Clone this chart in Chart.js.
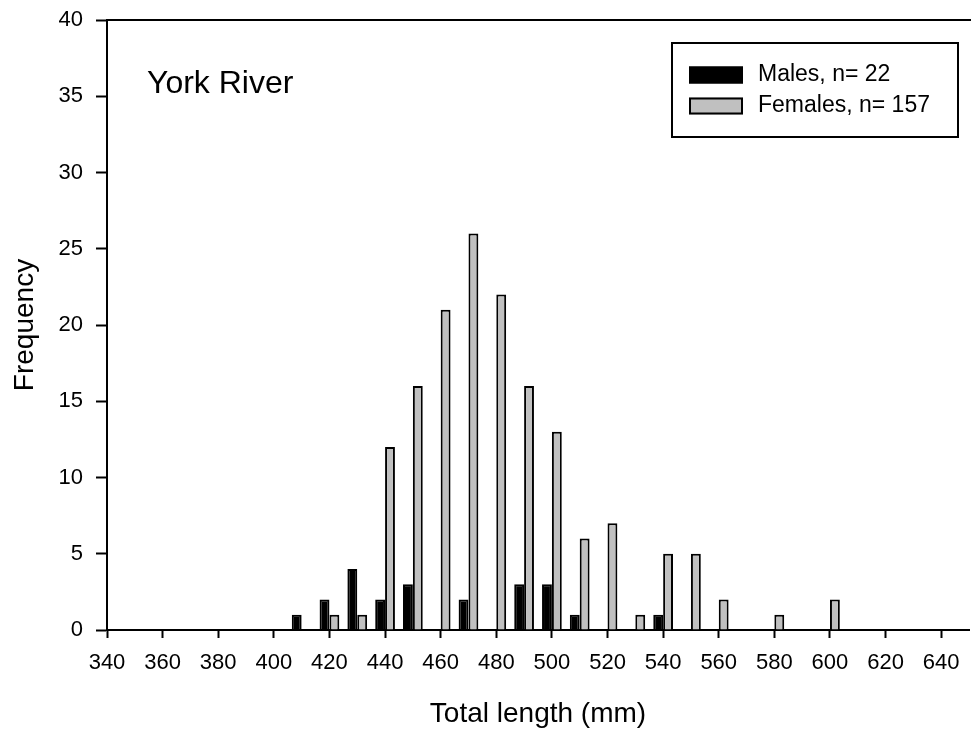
<!DOCTYPE html>
<html>
<head>
<meta charset="utf-8">
<title>York River - total length frequency</title>
<script src="https://cdn.jsdelivr.net/npm/chart.js@4.4.1/dist/chart.umd.min.js"></script>
<style>
  html, body { margin: 0; padding: 0; background: #fff; overflow: hidden; }
  #wrap { width: 981px; height: 734px; }
</style>
</head>
<body>
<div id="wrap"><canvas id="chart" width="981" height="734"></canvas></div>
<script>
// 10 mm length classes (the last one only pads the axis past 640)
var lengthBins = [340, 350, 360, 370, 380, 390, 400, 410, 420, 430, 440, 450, 460, 470, 480, 490,
                  500, 510, 520, 530, 540, 550, 560, 570, 580, 590, 600, 610, 620, 630, 640, 650];
var males =      [0, 0, 0, 0, 0, 0, 0, 1, 2, 4, 2, 3, 0, 2, 0, 3,
                  3, 1, 0, 0, 1, 0, 0, 0, 0, 0, 0, 0, 0, 0, 0, 0];
var females =    [0, 0, 0, 0, 0, 0, 0, 0, 1, 1, 12, 16, 21, 26, 22, 16,
                  13, 6, 7, 1, 5, 5, 2, 0, 1, 0, 2, 0, 0, 0, 0, 0];
var xTickLabels = [340, 360, 380, 400, 420, 440, 460, 480, 500, 520, 540, 560, 580, 600, 620, 640];
var yTicks = [0, 5, 10, 15, 20, 25, 30, 35, 40];
var siteName = 'York River';

var FONT = '"Liberation Sans", Arial, Helvetica, sans-serif';

function total(arr) {
  var s = 0;
  for (var i = 0; i < arr.length; i++) s += arr[i];
  return s;
}

// title text and the boxed legend are drawn by hand
var extras = {
  id: 'extras',
  afterDraw: function(chart) {
    var ctx = chart.ctx;
    var area = chart.chartArea;
    ctx.save();

    // top frame line
    ctx.strokeStyle = '#000';
    ctx.lineWidth = 2;
    ctx.beginPath();
    ctx.moveTo(area.left, area.top);
    ctx.lineTo(chart.width, area.top);
    ctx.stroke();

    ctx.fillStyle = '#000';
    ctx.font = '32px ' + FONT;
    ctx.textBaseline = 'alphabetic';
    ctx.textAlign = 'left';
    ctx.fillText(siteName, area.left + 40, area.top + 73);

    // legend box
    var bx = area.left + 565, by = area.top + 23, bw = 286, bh = 94;
    ctx.lineWidth = 2;
    ctx.strokeRect(bx, by, bw, bh);

    ctx.font = '23px ' + FONT;
    ctx.textBaseline = 'middle';
    var rows = [by + 32, by + 63];
    chart.data.datasets.forEach(function(ds, i) {
      var cy = rows[i];
      ctx.fillStyle = ds.backgroundColor;
      ctx.fillRect(bx + 17, cy - 8.5, 54, 17);
      ctx.strokeStyle = ds.borderColor;
      ctx.lineWidth = 2;
      ctx.strokeRect(bx + 18, cy - 7.5, 52, 15);
      ctx.fillStyle = '#000';
      ctx.fillText(ds.label, bx + 86, cy);
    });
    ctx.restore();
  }
};

var ctx = document.getElementById('chart').getContext('2d');
var chart = new Chart(ctx, {
  type: 'bar',
  data: {
    labels: lengthBins,
    datasets: [{
      label: 'Males, n= ' + total(males),
      data: males,
      backgroundColor: '#000000',
      borderColor: '#000000',
      borderWidth: 2
    }, {
      label: 'Females, n= ' + total(females),
      data: females,
      backgroundColor: '#c0c0c0',
      borderColor: '#000000',
      borderWidth: 2
    }]
  },
  options: {
    responsive: false,
    animation: false,
    events: [],
    layout: { padding: { left: 0, top: 20, right: 3, bottom: 0 } },
    datasets: {
      bar: { categoryPercentage: 0.71, barPercentage: 1.0 }
    },
    plugins: {
      legend: { display: false },
      tooltip: { enabled: false }
    },
    scales: {
      x: {
        offset: false,
        grid: {
          offset: false,
          drawOnChartArea: false,
          tickLength: 8,
          tickWidth: 2,
          tickColor: function(c) {
            var v = lengthBins[c.index];
            return xTickLabels.indexOf(v) >= 0 ? '#000' : 'rgba(0,0,0,0)';
          }
        },
        border: { color: '#000', width: 2 },
        ticks: {
          autoSkip: false,
          maxRotation: 0,
          padding: 12,
          color: '#000',
          font: { family: FONT, size: 22 },
          callback: function(value) {
            var v = lengthBins[value];
            return xTickLabels.indexOf(v) >= 0 ? String(v) : '';
          }
        },
        title: {
          display: true,
          text: 'Total length (mm)',
          color: '#000',
          font: { family: FONT, size: 28 },
          padding: { top: 0, bottom: 3 }
        },
        afterFit: function(scale) { scale.height = 104; }
      },
      y: {
        min: yTicks[0],
        max: yTicks[yTicks.length - 1],
        grid: {
          drawOnChartArea: false,
          tickLength: 11,
          tickWidth: 2,
          tickColor: '#000'
        },
        border: { color: '#000', width: 2 },
        ticks: {
          stepSize: yTicks[1] - yTicks[0],
          padding: 13,
          color: '#000',
          font: { family: FONT, size: 22 }
        },
        title: {
          display: true,
          text: 'Frequency',
          color: '#000',
          font: { family: FONT, size: 28 },
          padding: { top: 8, bottom: 0 }
        },
        afterFit: function(scale) {
          scale.width = 107;
          // label overhang is covered by the layout padding already
          scale.paddingTop = 0;
          scale.paddingBottom = 0;
        }
      }
    }
  },
  plugins: [extras]
});
</script>
</body>
</html>
